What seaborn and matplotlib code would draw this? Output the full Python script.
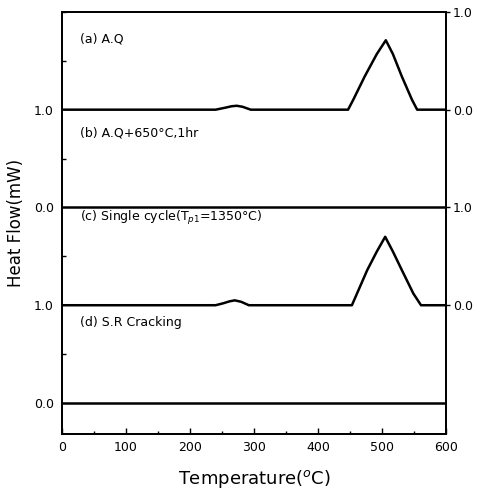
import pandas as pd
import matplotlib
matplotlib.use("Agg")
import matplotlib.pyplot as plt
from matplotlib.ticker import MultipleLocator
import seaborn as sns

# DSC traces (heat flow in mW, each panel on its own offset)
temp_a = [0, 240, 255, 265, 273, 282, 295, 447, 455, 473, 492, 506, 517, 531, 547, 555, 600]
flow_a = [0, 0, 0.02, 0.035, 0.04, 0.03, 0, 0, 0.10, 0.34, 0.57, 0.71, 0.57, 0.34, 0.10, 0, 0]

temp_b = [0, 600]
flow_b = [0, 0]

temp_c = [0, 240, 252, 262, 270, 280, 292, 453, 461, 477, 492, 505, 517, 531, 549, 561, 600]
flow_c = [0, 0, 0.02, 0.04, 0.05, 0.035, 0, 0, 0.12, 0.36, 0.55, 0.70, 0.55, 0.36, 0.12, 0, 0]

temp_d = [0, 600]
flow_d = [0, 0]

offsets = [3, 2, 1, 0]
labels = ['(a) A.Q', '(b) A.Q+650°C,1hr',
          '(c) Single cycle(T$_{p1}$=1350°C)', '(d) S.R Cracking']
label_y = [3.72, 2.76, 1.89, 0.82]

left_ticks = [0, 1, 2, 3]
left_labels = ['0.0', '1.0', '0.0', '1.0']
right_ticks = [1, 2, 3, 4]
right_labels = ['0.0', '1.0', '0.0', '1.0']

sns.set_style('ticks')
plt.rcParams['font.family'] = ['DejaVu Sans']
for key in ['text.color', 'axes.labelcolor', 'xtick.color', 'ytick.color', 'axes.edgecolor']:
    plt.rcParams[key] = 'black'

fig = plt.figure(figsize=(4.78, 4.96), dpi=100)
ax = fig.add_axes([0.1297, 0.125, 0.8033, 0.851])

traces = [(temp_a, flow_a), (temp_b, flow_b), (temp_c, flow_c), (temp_d, flow_d)]
for (t, f), off in zip(traces, offsets):
    df = pd.DataFrame({'T': t, 'HF': [v + off for v in f]})
    sns.lineplot(data=df, x='T', y='HF', ax=ax, color='black', linewidth=1.8)

for txt, yy in zip(labels, label_y):
    ax.text(28, yy, txt, fontsize=9, va='center', ha='left')

ax.set_xlim(0, 600)
ax.set_ylim(-0.317, 4.0)
ax.xaxis.set_major_locator(MultipleLocator(100))
ax.xaxis.set_minor_locator(MultipleLocator(50))
ax.set_yticks(left_ticks)
ax.set_yticklabels(left_labels)
ax.yaxis.set_minor_locator(MultipleLocator(0.5))
ax.tick_params(axis='x', which='major', direction='in', length=4, width=1, labelsize=9, pad=5)
ax.tick_params(axis='x', which='minor', direction='in', length=2.5, width=1)
ax.tick_params(axis='y', which='major', direction='in', length=0, labelsize=9, pad=6)
ax.tick_params(axis='y', which='minor', direction='in', length=3, width=1)
for s in ax.spines.values():
    s.set_linewidth(1.3)

ax2 = ax.twinx()
ax2.set_ylim(ax.get_ylim())
ax2.set_yticks(right_ticks)
ax2.set_yticklabels(right_labels)
ax2.tick_params(axis='y', direction='out', length=3, width=1, labelsize=9, pad=2)
for s in ax2.spines.values():
    s.set_linewidth(1.3)

ax.set_xlabel('Temperature($^o$C)', fontsize=13, labelpad=10)
ax.set_ylabel('Heat Flow(mW)', fontsize=12, labelpad=6)

fig.savefig('out.png', dpi=100)
